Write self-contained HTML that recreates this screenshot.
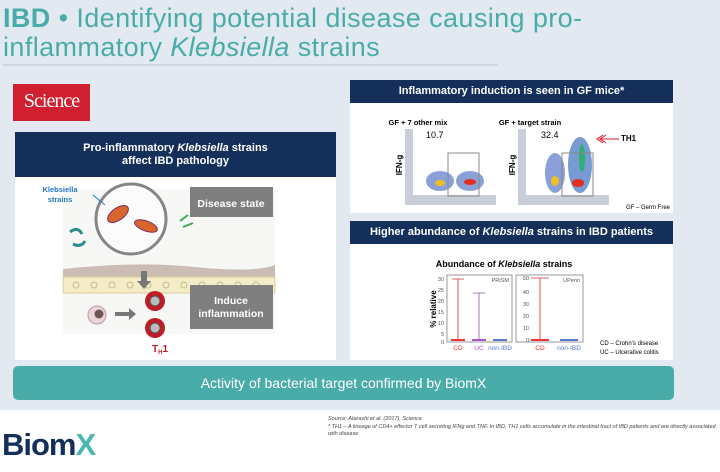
<!DOCTYPE html>
<html><head><meta charset="utf-8"><style>
*{margin:0;padding:0;box-sizing:border-box}
body{width:720px;height:472px;overflow:hidden;background:#fff;font-family:"Liberation Sans",sans-serif;position:relative}
.bg{position:absolute;left:0;top:0;width:720px;height:410px;background:#e3e9f1}
.abs{position:absolute}
.title{left:3px;color:#4aaca8;font-size:27px;line-height:24px;letter-spacing:0.4px;white-space:nowrap}
.hdr{background:#14305a;color:#fff;font-weight:bold;text-align:center;font-size:11px}
.white{background:#fff}
</style></head><body>
<div class="bg"></div>
<div class="abs title" style="top:6px"><b>IBD</b> • Identifying potential disease causing pro-</div>
<div class="abs title" style="top:35px">inflammatory <i>Klebsiella</i> strains</div>
<div class="abs" style="left:3px;top:64px;width:495px;height:2px;background:#d0d7e1"></div>

<div class="abs" style="left:13px;top:84px;width:77px;height:37px;background:#d0202f;color:#fff;font-family:'Liberation Serif',serif;font-size:20px;text-align:center;line-height:34px;letter-spacing:-1px">Science</div>

<div class="abs white" style="left:15px;top:132px;width:321px;height:228px"></div>
<div class="abs hdr" style="left:15px;top:132px;width:321px;height:45px;padding-top:10px;line-height:13px">Pro-inflammatory <i>Klebsiella</i> strains<br>affect IBD pathology</div>
<svg class="abs" style="left:15px;top:177px" width="321" height="183">
<rect x="48" y="12" width="212" height="145" fill="#f7f7f6"/>
<path d="M48 92 Q120 84 180 90 T260 88 L260 100 L48 100Z" fill="#cbbdb4"/>
<rect x="48" y="100" width="212" height="16" fill="#f3ecc6" stroke="#d9cf9c"/>
<g fill="none" stroke="#b9ae85" stroke-width="0.8">
<circle cx="61" cy="108" r="3"/><circle cx="79" cy="108" r="3"/><circle cx="97" cy="108" r="3"/><circle cx="115" cy="108" r="3"/><circle cx="133" cy="108" r="3"/><circle cx="151" cy="108" r="3"/><circle cx="169" cy="108" r="3"/><circle cx="187" cy="108" r="3"/><circle cx="205" cy="108" r="3"/><circle cx="223" cy="108" r="3"/><circle cx="241" cy="108" r="3"/></g>
<circle cx="116" cy="42" r="35" fill="rgba(255,255,255,0.5)" stroke="#858585" stroke-width="3"/>
<ellipse cx="103" cy="37" rx="12" ry="6" fill="#d8652a" stroke="#7a2e6a" transform="rotate(-35 103 37)"/>
<ellipse cx="131" cy="49" rx="12" ry="5" fill="#d8652a" stroke="#7a2e6a" transform="rotate(20 131 49)"/>
<path d="M55 55 q8 -6 12 2 M58 67 q8 4 12 -3" stroke="#2f8c8c" stroke-width="3" fill="none"/>
<path d="M165 44 l8 -6 M168 50 l10 -4" stroke="#3aaa50" stroke-width="2"/>
<rect x="126" y="94" width="6" height="10" fill="#777"/><path d="M122 104 h14 l-7 8z" fill="#777"/>
<rect x="175" y="10" width="83" height="30" fill="#7f7f7f"/>
<text x="216" y="30" fill="#fff" font-size="10.5" font-weight="bold" text-anchor="middle">Disease state</text>
<rect x="175" y="108" width="83" height="44" fill="#7f7f7f"/>
<text x="216" y="127" fill="#fff" font-size="10.5" font-weight="bold" text-anchor="middle">Induce</text>
<text x="216" y="140" fill="#fff" font-size="10.5" font-weight="bold" text-anchor="middle">inflammation</text>
<circle cx="82" cy="138" r="9" fill="#e9d5d8" stroke="#b9a"/><circle cx="84" cy="137" r="4.5" fill="#6c5555"/>
<path d="M100 135 h14 v-4 l7 6 -7 6 v-4 h-14z" fill="#777"/>
<circle cx="140" cy="124" r="10" fill="#c01c28"/><circle cx="140" cy="124" r="5" fill="#bbb" stroke="#555"/>
<circle cx="140" cy="151" r="10" fill="#c01c28"/><circle cx="140" cy="151" r="5" fill="#bbb" stroke="#555"/>
<text x="137" y="175" fill="#c01c28" font-size="10" font-weight="bold">T<tspan font-size="6" dy="2">H</tspan><tspan dy="-2">1</tspan></text>
<text x="45" y="15" fill="#2277c5" font-size="7.5" font-weight="bold" text-anchor="middle">Klebsiella</text>
<text x="45" y="25" fill="#2277c5" font-size="7.5" font-weight="bold" text-anchor="middle">strains</text>
<path d="M78 18 l12 10" stroke="#2277c5"/>
</svg>

<div class="abs white" style="left:350px;top:80px;width:323px;height:133px"></div>
<div class="abs hdr" style="left:350px;top:80px;width:323px;height:23px;line-height:23px">Inflammatory induction is seen in GF mice*</div>
<svg class="abs" style="left:350px;top:103px" width="323" height="110">
<text x="68" y="22" font-size="7.5" font-weight="bold" text-anchor="middle">GF + 7 other mix</text>
<text x="180" y="22" font-size="7.5" font-weight="bold" text-anchor="middle">GF + target strain</text>
<rect x="55" y="26" width="91" height="76" fill="#c9ced8"/><rect x="63" y="26" width="83" height="66" fill="#fff"/>
<rect x="168" y="26" width="91" height="76" fill="#c9ced8"/><rect x="176" y="26" width="83" height="66" fill="#fff"/>
<ellipse cx="90" cy="78" rx="14" ry="10" fill="#5a78c8" opacity="0.7"/><ellipse cx="90" cy="80" rx="5" ry="3" fill="#f0c020"/>
<ellipse cx="120" cy="78" rx="14" ry="10" fill="#5a78c8" opacity="0.7"/><ellipse cx="120" cy="79" rx="6" ry="3" fill="#e03020"/>
<ellipse cx="205" cy="70" rx="10" ry="20" fill="#5a78c8" opacity="0.7"/><ellipse cx="205" cy="78" rx="4" ry="5" fill="#f0c020"/>
<ellipse cx="230" cy="62" rx="12" ry="28" fill="#4070c0" opacity="0.7"/><ellipse cx="228" cy="80" rx="6" ry="4" fill="#e03020"/><ellipse cx="232" cy="55" rx="3" ry="14" fill="#30b070"/>
<rect x="98" y="50" width="31" height="43" fill="none" stroke="#888"/>
<rect x="212" y="50" width="31" height="43" fill="none" stroke="#888"/>
<text x="76" y="35" font-size="9">10.7</text><text x="191" y="35" font-size="9">32.4</text>
<path d="M253 32 l-6 4 6 4 M256 32 l-6 4 6 4 M251 36 h18" stroke="#d01c28" fill="none"/>
<text x="271" y="38" font-size="8" font-weight="bold">TH1</text>
<text x="52" y="62" font-size="8" font-weight="bold" transform="rotate(-90 52 62)" text-anchor="middle">IFN-g</text>
<text x="165" y="62" font-size="8" font-weight="bold" transform="rotate(-90 165 62)" text-anchor="middle">IFN-g</text>
<text x="320" y="106" font-size="6" text-anchor="end">GF – Germ Free</text>
</svg>

<div class="abs white" style="left:350px;top:221px;width:323px;height:139px"></div>
<div class="abs hdr" style="left:350px;top:221px;width:323px;height:23px;line-height:23px">Higher abundance of <i>Klebsiella</i> strains in IBD patients</div>
<svg class="abs" style="left:350px;top:244px" width="323" height="116">
<text x="154" y="23" font-size="9" font-weight="bold" text-anchor="middle">Abundance of <tspan font-style="italic">Klebsiella</tspan> strains</text>
<g font-size="5.5" fill="#555">
<rect x="97" y="31" width="65" height="67" fill="none" stroke="#999"/>
<rect x="166" y="31" width="67" height="67" fill="none" stroke="#999"/>
<text x="159" y="38" text-anchor="end">PRISM</text><text x="230" y="38" text-anchor="end">UPenn</text>
<text x="94" y="37" text-anchor="end">30</text><text x="94" y="48" text-anchor="end">25</text><text x="94" y="59" text-anchor="end">20</text><text x="94" y="70" text-anchor="end">15</text><text x="94" y="81" text-anchor="end">10</text><text x="94" y="92" text-anchor="end">5</text><text x="94" y="100" text-anchor="end">0</text>
<text x="179" y="36" text-anchor="end">50</text><text x="179" y="50" text-anchor="end">40</text><text x="179" y="62" text-anchor="end">30</text><text x="179" y="74" text-anchor="end">20</text><text x="179" y="86" text-anchor="end">10</text><text x="179" y="98" text-anchor="end">0</text>
</g>
<g stroke-width="0.8">
<path d="M108 35 v61 M102 35 h12" stroke="#c33"/><rect x="101" y="95" width="14" height="2" fill="#e33"/>
<path d="M129 49 v47 M123 49 h12" stroke="#85a"/><rect x="122" y="95" width="14" height="2" fill="#a5c"/>
<rect x="143" y="95" width="14" height="2" fill="#57c"/>
<path d="M190 34 v62 M181 34 h18" stroke="#c33"/><rect x="181" y="95" width="18" height="2" fill="#e33"/>
<rect x="210" y="95" width="18" height="2" fill="#57c"/>
</g>
<g font-size="6.5"><text x="108" y="106" fill="#e33" text-anchor="middle">CD</text><text x="129" y="106" fill="#a5c" text-anchor="middle">UC</text><text x="150" y="106" fill="#57c" text-anchor="middle">non-IBD</text>
<text x="190" y="106" fill="#e33" text-anchor="middle">CD</text><text x="219" y="106" fill="#57c" text-anchor="middle">non-IBD</text></g>
<text x="86" y="65" font-size="8" font-weight="bold" transform="rotate(-90 86 65)" text-anchor="middle">% relative</text>
<text x="250" y="101" font-size="6">CD – Crohn’s disease</text>
<text x="250" y="110" font-size="6">UC – Ulcerative colitis</text>
</svg>

<div class="abs" style="left:13px;top:366px;width:661px;height:34px;background:#4aaca8;border-radius:5px;color:#fff;font-size:14px;text-align:center;line-height:34px">Activity of bacterial target confirmed by BiomX</div>

<div class="abs" style="left:328px;top:416px;font-size:5.5px;font-style:italic;color:#444;line-height:7.5px;width:390px">Source: Atarashi et al. (2017), Science<br>* TH1 – A lineage of CD4+ effector T cell secreting IFNg and TNF. In IBD, TH1 cells accumulate in the intestinal tract of IBD patients and are directly associated with disease</div>
<div class="abs" style="left:2px;top:427px;font-size:31px;font-weight:bold;color:#14305a;letter-spacing:-1px">Biom<span style="color:#4ab8b0">X</span></div>
</body></html>
